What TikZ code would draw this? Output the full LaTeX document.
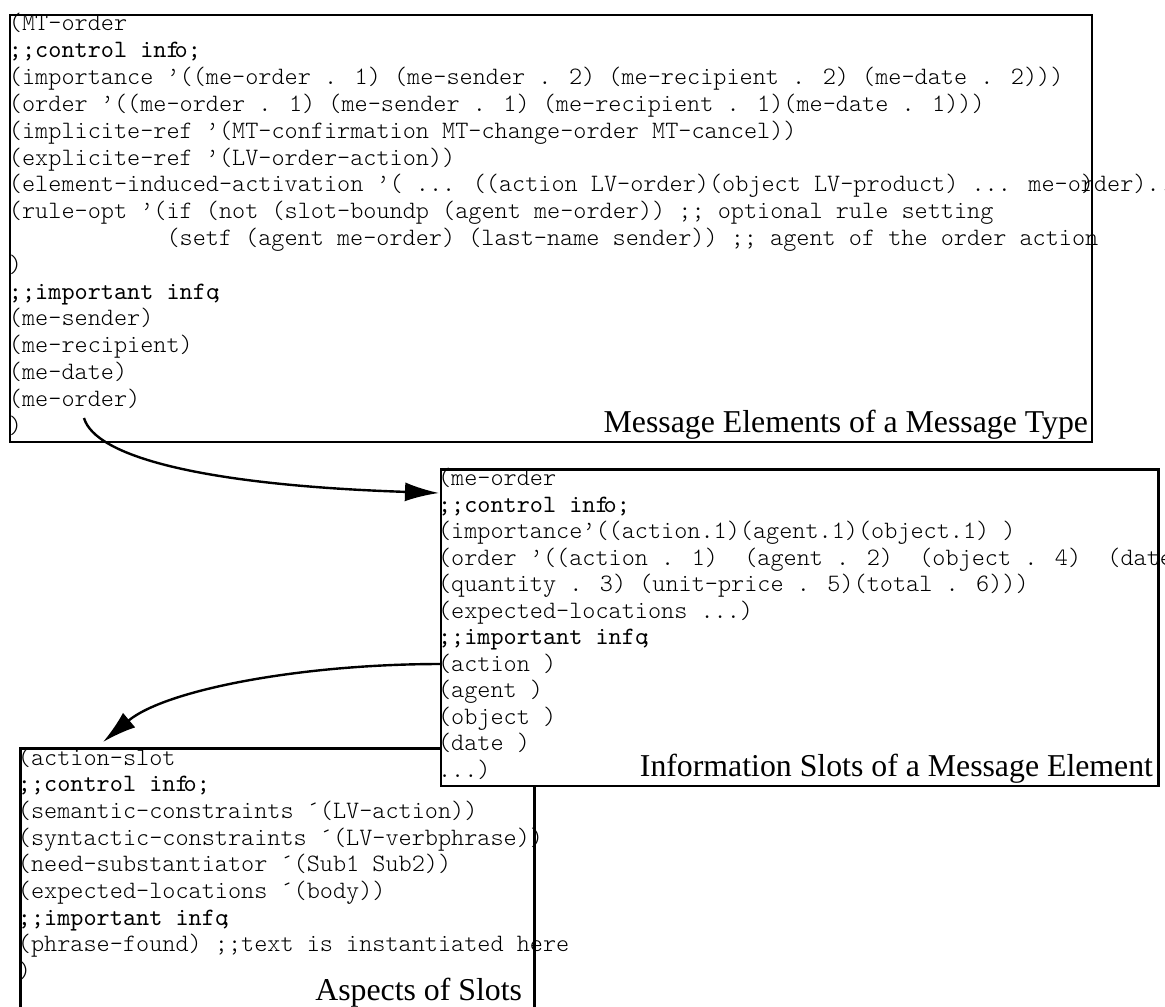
\documentclass[tikz,border=0pt]{standalone}
\usepackage{fontspec}
\setmainfont{Liberation Serif}
\newfontfamily\codefont{lmmonolt10-regular.otf}
\newfontfamily\codeboldfont{lmmono10-regular.otf}
\usetikzlibrary{arrows.meta}

% one line of code in each frame, by line number
\newcommand\mtline[2]{\node[code] (mt-#1) at (9,{31+26.8*(#1-1)}) {#2};}
\newcommand\asline[2]{\node[code] (as-#1) at (18,{765+26.7*(#1-1)}) {#2};}
\newcommand\meline[2]{\node[code] (me-#1) at (438,{485.5+26.5*(#1-1)}) {#2};}

\begin{document}
\begin{tikzpicture}[x=0.5pt,y=-0.5pt,
  frame/.style={draw=black,line width=1.4pt,fill=white,rectangle,
    inner sep=0pt,outer sep=0pt,anchor=north west},
  code/.style={font=\codefont\fontsize{12.5}{14}\selectfont,anchor=base west,
    inner sep=0pt,outer sep=0pt},
  boxtitle/.style={font=\fontsize{15.9}{18}\selectfont,anchor=base east,
    inner sep=0pt,outer sep=0pt},
  link/.style={line width=1.2pt,-{Latex[length=17pt,width=9.5pt]}}]
\useasboundingbox (0,0) rectangle (1165,1006);
\clip (0,0) rectangle (1165,1006);

% message type frame
\node[frame,minimum width=541pt,minimum height=213.5pt] (mt) at (10,15) {};
\mtline{1}{(MT-order}
\mtline{2}{\codeboldfont;;control inf\kern-.2em o;}
\mtline{3}{(importance ’((me-order . 1) (me-sender . 2) (me-recipient . 2) (me-date . 2)))}
\mtline{4}{(order ’((me-order . 1) (me-sender . 1) (me-recipient . 1)(me-date . 1)))}
\mtline{5}{(implicite-ref ’(MT-confirmation MT-change-order MT-cancel))}
\mtline{6}{(explicite-ref ’(LV-order-action))}
\mtline{7}{(element-induced-activation ’( ... ((action LV-order)(object LV-product) ... me-or\llap{)}der)..}
\mtline{8}{(rule-opt ’(if (not (slot-boundp (agent me-order)) ;; optional rule setting}
\mtline{9}{~~~~~~~~~~~~(setf (agent me-order) (last-name sender)) ;; agent of the order action}
\mtline{10}{)}
\mtline{11}{\codeboldfont;;important info\kern-.35em;}
\mtline{12}{(me-sender)}
\mtline{13}{(me-recipient)}
\mtline{14}{(me-date)}
\mtline{15}{(me-order)}
\mtline{16}{)}
\node[boxtitle] (mt-title) at (1088,432) {Message Elements of a Message Type};

% aspects of slots frame (partly covered by the element frame)
\node[frame,minimum width=256.8pt,minimum height=150pt] (as) at (20.7,748.7) {};
\asline{1}{(action-slot}
\asline{2}{\codeboldfont;;control inf\kern-.2em o;}
\asline{3}{(semantic-constraints ´(LV-action))}
\asline{4}{(syntactic-constraints ´(LV-verbphrase))}
\asline{5}{(need-substantiator ´(Sub1 Sub2))}
\asline{6}{(expected-locations ´(body))}
\asline{7}{\codeboldfont;;important info\kern-.35em;}
\asline{8}{(phrase-found) ;;text is instantiated here}
\asline{9}{)}
\node[boxtitle] (as-title) at (522,1000) {Aspects of Slots};

% message element frame
\node[frame,minimum width=358.75pt,minimum height=158.25pt] (me) at (441,469.5) {};
\meline{1}{(me-order}
\meline{2}{\codeboldfont;;control inf\kern-.2em o;}
\meline{3}{(importance’((action.1)(agent.1)(object.1) )}
\meline{4}{(order ’((action . 1) ~(agent . 2) ~(object . 4) ~(date}
\meline{5}{(quantity . 3) (unit-price . 5)(total . 6)))}
\meline{6}{(expected-locations ...)}
\meline{7}{\codeboldfont;;important info\kern-.35em;}
\meline{8}{(action )}
\meline{9}{(agent )}
\meline{10}{(object )}
\meline{11}{(date )}
\meline{12}{...)}
\node[boxtitle] (me-title) at (1153,776) {Information Slots of a Message Element};

% connectors
\coordinate (a1s) at (84,418);
\path (me.north west) ++(-2,23.5) coordinate (a1e);
\draw[link] (a1s) .. controls (95,456) and (200,485) .. (a1e);
\path (me.north west) ++(0,194.5) coordinate (a2s);
\coordinate (a2e) at (103,742);
\draw[link] (a2s) .. controls (300,664) and (165,690) .. (a2e);
\end{tikzpicture}
\end{document}
